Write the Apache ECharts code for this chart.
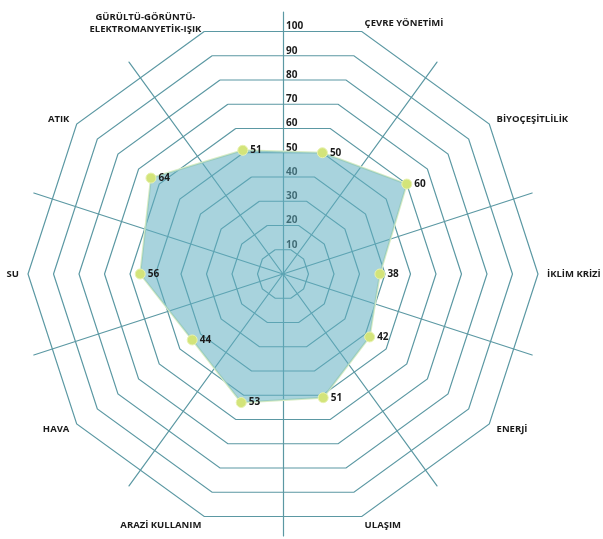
<!DOCTYPE html>
<html>
<head>
<meta charset="utf-8">
<script src="https://cdn.jsdelivr.net/npm/echarts@6/dist/echarts.min.js"></script>
<style>
  html, body { margin: 0; padding: 0; background: #fff; }
  #main { width: 603px; height: 539px; }
</style>
</head>
<body>
<div id="main"></div>
<script>
// eksenler (saat yönünün tersine, sol üstten başlayarak)
var categories = ['GÜRÜLTÜ-GÖRÜNTÜ-\nELEKTROMANYETİK-IŞIK', 'ATIK', 'SU', 'HAVA', 'ARAZİ KULLANIM',
                  'ULAŞIM', 'ENERJİ', 'İKLİM KRİZİ', 'BİYOÇEŞİTLİLİK', 'ÇEVRE YÖNETİMİ'];
var values = [51, 64, 56, 44, 53, 51, 42, 38, 60, 50];
var tickLabels = [10, 20, 30, 40, 50, 60, 70, 80, 90, 100];

var cx = 283, cy = 274, R = 255;
var lineColor = '#5b98a3';
var fontFam = '"Open Sans", "Noto Sans", sans-serif';

var chart = echarts.init(document.getElementById('main'));

var indicators = categories.map(function (c) { return { name: c, max: 100 }; });
var spokes = categories.map(function () { return { name: '', max: 100 }; });

var option = {
    backgroundColor: '#ffffff',
    animation: false,
    radar: [{
        center: [cx, cy],
        radius: R,
        startAngle: 108,
        shape: 'polygon',
        splitNumber: 10,
        indicator: indicators,
        nameGap: 9,
        axisName: {
            color: '#1a1a1a',
            fontFamily: fontFam,
            fontWeight: 'bold',
            fontSize: 9.5,
            formatter: function (name) {
                if (name.indexOf('\n') >= 0) {
                    return name.split('\n').map(function (s) { return '{c|' + s + '}'; }).join('\n');
                }
                return name;
            },
            rich: {
                c: { align: 'center', fontFamily: fontFam, fontWeight: 'bold', fontSize: 9.5, color: '#1a1a1a', lineHeight: 12 }
            }
        },
        splitLine: { lineStyle: { color: lineColor, width: 1.2 } },
        splitArea: { show: false },
        axisLine: { show: false }
    }, {
        // ara çizgiler (kenar ortalarından geçen)
        center: [cx, cy],
        radius: 262,
        startAngle: 90,
        shape: 'polygon',
        indicator: spokes,
        axisName: { show: false },
        splitLine: { show: false },
        splitArea: { show: false },
        axisLine: { lineStyle: { color: lineColor, width: 1.2 } }
    }],
    grid: {
        left: cx,
        top: cy - R * Math.cos(Math.PI / 10),
        height: R * Math.cos(Math.PI / 10),
        width: 40
    },
    xAxis: { type: 'value', show: false },
    yAxis: {
        type: 'value',
        min: 0,
        max: 100,
        interval: 10,
        axisLine: { show: false },
        axisTick: { show: false },
        splitLine: { show: false },
        axisLabel: {
            inside: true,
            margin: 3,
            verticalAlign: 'bottom',
            color: '#1a1a1a',
            fontFamily: fontFam,
            fontWeight: 'bold',
            fontSize: 10,
            formatter: function (v) { return tickLabels.indexOf(v) >= 0 ? String(v) : ''; }
        }
    },
    series: [{
        type: 'radar',
        radarIndex: 0,
        symbol: 'circle',
        symbolSize: 10,
        itemStyle: { color: '#d3e47a', borderColor: '#e8f2b0', borderWidth: 1 },
        lineStyle: { color: '#d8ecc4', width: 2 },
        areaStyle: { color: 'rgba(95,174,192,0.78)' },
        label: {
            show: true,
            position: 'right',
            distance: 2,
            color: '#1a1a1a',
            fontFamily: fontFam,
            fontWeight: 'bold',
            fontSize: 10
        },
        data: [{ value: values, name: 'Skor' }]
    }]
};

chart.setOption(option);
</script>
</body>
</html>
